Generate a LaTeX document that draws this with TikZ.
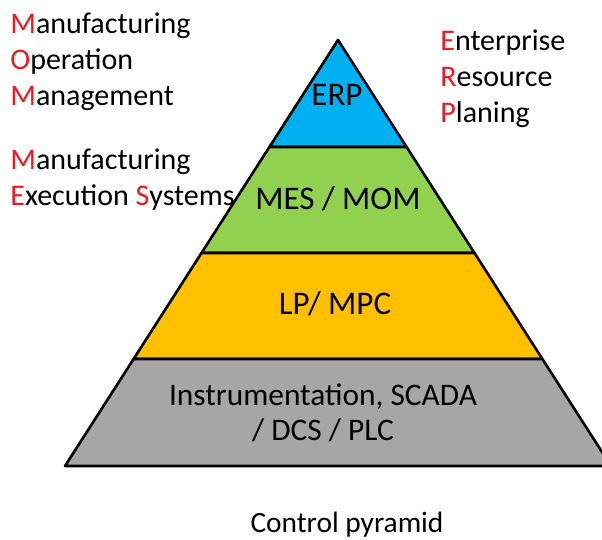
\documentclass[tikz,border=0pt]{standalone}
\usepackage{fontspec}
\setmainfont{Carlito}

\definecolor{erpblue}{RGB}{0,176,240}
\definecolor{mesgreen}{RGB}{146,208,80}
\definecolor{lpyellow}{RGB}{255,192,0}
\definecolor{plcgray}{RGB}{166,166,166}
\definecolor{initial}{RGB}{232,28,36}
\newcommand{\ini}[1]{\textcolor{initial}{#1}}

\begin{document}
\begin{tikzpicture}[x=0.5pt,y=-0.5pt,
  layer/.style={draw=black,line width=1.3pt,line join=round},
  lbl/.style={font=\fontsize{16.5}{19}\selectfont,inner sep=0pt},
  acro/.style={font=\fontsize{15}{18}\selectfont,align=left,inner sep=0pt,anchor=north west}]
\clip (0,0) rectangle (602,540);
\fill[white] (0,0) rectangle (602,540);

% the four layers of the pyramid
\filldraw[layer,fill=erpblue]  (338,40) -- (406.6,147) -- (269.4,147) -- cycle;
\filldraw[layer,fill=mesgreen] (269.4,147) -- (406.6,147) -- (474.5,253) -- (201.5,253) -- cycle;
\filldraw[layer,fill=lpyellow] (201.5,253) -- (474.5,253) -- (542.4,359) -- (133.6,359) -- cycle;
\filldraw[layer,fill=plcgray]  (133.6,359) -- (542.4,359) -- (611,466) -- (65,466) -- cycle;

\node[lbl] (erp) at (337,95) {ERP};
\node[lbl] (mes) at (338,199) {MES / MOM};
\node[lbl] (lp) at (335,304) {LP/ MPC};
\node[lbl,align=center,font=\fontsize{15.7}{17.5}\selectfont] (plc) at (323,413) {Instrumentation, SCADA\\/ DCS / PLC};

% what the acronyms stand for
\node[acro] (mom text) at (10,12) {\ini{M}anufacturing\\\ini{O}peration\\\ini{M}anagement};
\node[acro] (mes text) at (10,148) {\ini{M}anufacturing\\\ini{E}xecution \ini{S}ystems};
\node[acro] (erp text) at (440,29) {\ini{E}nterprise\\\ini{R}esource\\\ini{P}laning};

\node[inner sep=0pt,font=\fontsize{14.7}{17}\selectfont] (caption) at (347,525) {Control pyramid};
\end{tikzpicture}
\end{document}
